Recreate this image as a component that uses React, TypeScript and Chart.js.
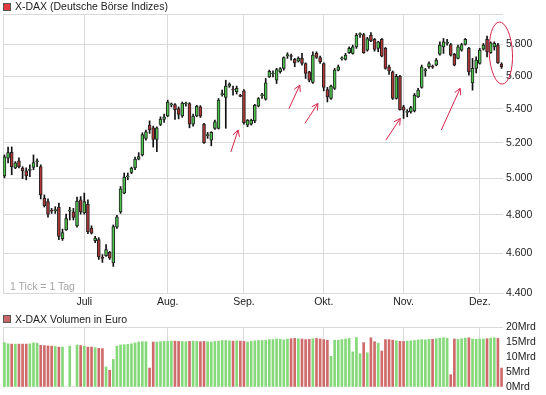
import { useEffect, useRef } from "react";
import { Chart, registerables } from "chart.js";

Chart.register(...registerables);

// ---- data ----
const monthTicks = [22, 45, 66, 88, 110, 131];
const monthLabels = ["Juli", "Aug.", "Sep.", "Okt.", "Nov.", "Dez."];
const priceTicks = [4400, 4600, 4800, 5000, 5200, 5400, 5600, 5800, 6000];
const volumeTicks = [0, 5, 10, 15, 20];

const openP = [
  5012, 5112, 5145, 5057, 5096, 5056, 5040, 5043, 5059, 5091,
  5064, 4889, 4871, 4823, 4822, 4841, 4674, 4720, 4819, 4815,
  4741, 4880, 4810, 4856, 4729, 4664, 4669, 4578, 4587, 4603,
  4550, 4734, 4815, 4917, 5006, 5031, 5056, 5106, 5130, 5225,
  5303, 5287, 5219, 5307, 5336, 5358, 5423, 5426, 5401, 5358,
  5429, 5432, 5309, 5358, 5411, 5309, 5241, 5215, 5284, 5284,
  5486, 5468, 5538, 5520, 5503, 5481, 5509, 5303, 5309, 5328,
  5415, 5479, 5458, 5594, 5613, 5574, 5627, 5648, 5729, 5729,
  5705, 5694, 5711, 5679, 5626, 5560, 5743, 5717, 5679, 5517,
  5462, 5524, 5637, 5708, 5705, 5747, 5743, 5785, 5864, 5865,
  5764, 5860, 5833, 5775, 5833, 5775, 5658, 5626, 5462, 5599,
  5411, 5378, 5381, 5387, 5472, 5530, 5634, 5658, 5661, 5669,
  5738, 5785, 5807, 5800, 5737, 5711, 5764, 5800, 5775, 5558,
  5648, 5679, 5770, 5833, 5747, 5785, 5796, 5675,
];
const highP = [
  5130, 5175, 5176, 5092, 5113, 5063, 5057, 5074, 5130, 5108,
  5074, 4907, 4885, 4834, 4843, 4863, 4724, 4803, 4840, 4834,
  4895, 4898, 4917, 4880, 4741, 4686, 4679, 4592, 4643, 4608,
  4746, 4797, 4953, 5028, 5028, 5061, 5117, 5143, 5258, 5274,
  5328, 5297, 5293, 5352, 5368, 5452, 5435, 5432, 5411, 5441,
  5441, 5437, 5368, 5421, 5419, 5313, 5260, 5264, 5332, 5462,
  5513, 5574, 5558, 5538, 5538, 5487, 5517, 5336, 5338, 5427,
  5468, 5493, 5585, 5637, 5632, 5648, 5653, 5721, 5747, 5738,
  5711, 5721, 5743, 5683, 5630, 5753, 5753, 5726, 5683, 5530,
  5544, 5648, 5669, 5721, 5743, 5785, 5796, 5872, 5875, 5872,
  5846, 5878, 5839, 5821, 5839, 5781, 5669, 5632, 5611, 5605,
  5421, 5395, 5415, 5493, 5524, 5669, 5648, 5690, 5669, 5711,
  5817, 5839, 5833, 5807, 5743, 5796, 5807, 5839, 5781, 5711,
  5721, 5775, 5807, 5854, 5817, 5817, 5807, 5683,
];
const lowP = [
  5001, 5085, 5018, 5052, 5057, 4996, 4990, 5008, 5046, 5063,
  4885, 4841, 4787, 4807, 4807, 4669, 4665, 4717, 4772, 4772,
  4734, 4803, 4803, 4700, 4698, 4653, 4567, 4552, 4582, 4567,
  4532, 4728, 4807, 4913, 4990, 5024, 5046, 5102, 5124, 5215,
  5254, 5175, 5148, 5300, 5319, 5352, 5411, 5336, 5340, 5349,
  5415, 5287, 5297, 5352, 5348, 5196, 5225, 5182, 5277, 5280,
  5476, 5284, 5530, 5482, 5489, 5472, 5309, 5293, 5303, 5317,
  5411, 5462, 5452, 5591, 5594, 5554, 5618, 5637, 5711, 5700,
  5658, 5688, 5669, 5585, 5564, 5554, 5711, 5679, 5509, 5441,
  5456, 5517, 5632, 5700, 5700, 5743, 5738, 5775, 5846, 5743,
  5757, 5818, 5757, 5753, 5721, 5643, 5611, 5456, 5458, 5391,
  5342, 5352, 5374, 5381, 5468, 5525, 5599, 5648, 5648, 5664,
  5732, 5743, 5796, 5726, 5664, 5707, 5757, 5796, 5605, 5513,
  5620, 5675, 5764, 5721, 5743, 5764, 5679, 5648,
];
const closeP = [
  5119, 5143, 5064, 5085, 5064, 5040, 5012, 5049, 5087, 5096,
  4907, 4848, 4803, 4819, 4828, 4686, 4706, 4780, 4823, 4786,
  4874, 4816, 4871, 4711, 4703, 4677, 4580, 4573, 4617, 4575,
  4737, 4789, 4940, 5005, 5011, 5056, 5106, 5120, 5248, 5264,
  5274, 5219, 5287, 5338, 5352, 5441, 5429, 5395, 5366, 5435,
  5435, 5309, 5356, 5415, 5356, 5201, 5247, 5260, 5322, 5452,
  5492, 5538, 5550, 5514, 5524, 5475, 5317, 5332, 5332, 5421,
  5462, 5486, 5558, 5630, 5619, 5641, 5646, 5717, 5735, 5723,
  5683, 5711, 5679, 5616, 5574, 5732, 5717, 5690, 5530, 5472,
  5538, 5637, 5658, 5714, 5732, 5775, 5785, 5860, 5870, 5747,
  5839, 5823, 5768, 5817, 5726, 5648, 5632, 5462, 5599, 5395,
  5391, 5384, 5407, 5482, 5513, 5658, 5640, 5679, 5655, 5700,
  5796, 5817, 5814, 5732, 5669, 5785, 5800, 5833, 5626, 5648,
  5700, 5764, 5796, 5753, 5810, 5807, 5683, 5658,
];
// Volume in Mrd Euro
const volumeMrd = [
  14.8, 14.4, 14.3, 14.3, 14.3, 14.3, 14.3, 14.4, 14.7, 14.6,
  13.9, 13.8, 13.7, 13.6, 13.5, 13.3, 13.3, 0, 13.6, 0,
  14.0, 13.8, 13.6, 13.3, 13.3, 13.1, 12.9, 12.8, 6.7, 5.6,
  9.2, 13.6, 14.0, 14.1, 14.2, 14.4, 14.7, 15.0, 15.1, 15.1,
  6.3, 15.0, 15.0, 15.1, 15.2, 15.2, 15.3, 15.3, 15.2, 15.2,
  15.1, 15.2, 15.3, 15.2, 15.1, 15.2, 15.1, 15.0, 15.2, 15.3,
  15.5, 15.5, 15.4, 15.3, 15.4, 15.3, 15.2, 15.0, 15.2, 15.4,
  15.5, 15.5, 15.6, 15.8, 15.8, 16.0, 15.9, 15.7, 16.0, 16.1,
  16.2, 16.1, 16.0, 15.8, 15.9, 16.1, 16.2, 16.0, 15.8, 15.6,
  10.2, 15.6, 15.6, 15.8, 16.0, 16.2, 11.7, 16.5, 11.1, 14.8,
  11.4, 16.4, 15.1, 14.6, 12.0, 15.8, 15.8, 15.6, 15.4, 15.2,
  15.2, 15.3, 15.4, 15.5, 15.7, 15.8, 15.7, 15.9, 15.9, 16.1,
  16.3, 16.4, 16.3, 4.1, 16.0, 15.9, 16.1, 16.3, 16.4, 16.0,
  15.9, 16.0, 16.0, 16.1, 16.3, 16.4, 16.2, 6.3,
];

// hand-drawn annotations (data coordinates: index, price)
const arrowTail = [[62.4, 5147], [78.4, 5401], [82.8, 5313], [105.1, 5215], [120.4, 5274]];
const arrowTip = [[64.4, 5274], [81.4, 5544], [86.4, 5432], [109.1, 5342], [125.6, 5524]];
const ellipseCenterIndex = 136.8;
const ellipseHalfWidthIndex = 3.2;
const ellipseTopPrice = 5947;
const ellipseBottomPrice = 5550;

// ---- styles ----
const FONT = "'Liberation Sans', Arial, sans-serif";
const GRID = "#d9d9d9";
const BODY_UP = "#4cc44c";
const BODY_DOWN = "#b03636";
const VOL_UP = "#86d97a";
const VOL_DOWN = "#cf6b6b";
const TEXT = "#222";
const ANNO = "#d8234a";

function fmtDE(v: number) {
  const s = String(Math.round(v));
  return s.length > 3 ? s.slice(0, s.length - 3) + "." + s.slice(-3) : s;
}

const annotationPlugin = {
  id: "handAnnotations",
  afterDraw(chart: any) {
    const { ctx } = chart;
    const xs = chart.scales.x;
    const ys = chart.scales.y;
    ctx.save();
    ctx.strokeStyle = ANNO;
    ctx.lineWidth = 1;
    arrowTail.forEach((t, k) => {
      const tip = arrowTip[k];
      const x0 = xs.getPixelForValue(t[0]);
      const y0 = ys.getPixelForValue(t[1]);
      const x1 = xs.getPixelForValue(tip[0]);
      const y1 = ys.getPixelForValue(tip[1]);
      const ang = Math.atan2(y1 - y0, x1 - x0);
      ctx.beginPath();
      ctx.moveTo(x0, y0);
      ctx.lineTo(x1, y1);
      const len = 7;
      for (const d of [-0.5, 0.5]) {
        ctx.moveTo(x1, y1);
        ctx.lineTo(x1 - len * Math.cos(ang + d), y1 - len * Math.sin(ang + d));
      }
      ctx.stroke();
    });
    const cx = xs.getPixelForValue(ellipseCenterIndex);
    const rx = xs.getPixelForValue(ellipseCenterIndex + ellipseHalfWidthIndex) - cx;
    const yt = ys.getPixelForValue(ellipseTopPrice);
    const yb = ys.getPixelForValue(ellipseBottomPrice);
    ctx.beginPath();
    ctx.ellipse(cx, (yt + yb) / 2, rx, (yb - yt) / 2, -0.05, 0, Math.PI * 2);
    ctx.stroke();
    ctx.restore();
  },
};

function xAxis(showLabels: boolean, height: number, showBorder: boolean) {
  return {
    type: "linear",
    min: -0.4,
    max: 137.4,
    offset: false,
    afterBuildTicks: (s: any) => {
      s.ticks = [-0.4, ...monthTicks].map((v) => ({ value: v }));
    },
    afterFit: (s: any) => {
      s.height = height;
      s.paddingLeft = 0;
      s.paddingRight = 0;
    },
    grid: { color: GRID, drawTicks: false, lineWidth: 1, offset: false },
    border: { display: showBorder, color: GRID },
    ticks: {
      display: showLabels,
      padding: 3,
      color: TEXT,
      autoSkip: false,
      maxRotation: 0,
      font: { family: FONT, size: 10.5 },
      callback: (v: number) => {
        const k = monthTicks.indexOf(v);
        return k >= 0 ? monthLabels[k] : "";
      },
    },
  };
}

export default function App() {
  const priceRef = useRef<HTMLCanvasElement>(null);
  const volRef = useRef<HTMLCanvasElement>(null);

  useEffect(() => {
    const idx = openP.map((_, i) => i);
    const up = idx.map((i) => closeP[i] >= openP[i]);

    const price = new Chart(priceRef.current as HTMLCanvasElement, {
      type: "bar",
      data: {
        datasets: [
          {
            label: "body",
            data: idx.map((i) => ({ x: i, y: [openP[i], closeP[i]] })),
            backgroundColor: idx.map((i) => (up[i] ? BODY_UP : BODY_DOWN)),
            borderColor: "#222",
            borderWidth: 1,
            borderSkipped: false,
            barThickness: 3,
            minBarLength: 1,
            grouped: false,
          } as any,
          {
            label: "wick",
            data: idx.map((i) => ({ x: i, y: [lowP[i], highP[i]] })),
            backgroundColor: "#111",
            borderWidth: 0,
            barThickness: 1,
            grouped: false,
          } as any,
        ],
      },
      options: {
        animation: false,
        responsive: false,
        devicePixelRatio: 1,
        events: [],
        layout: { padding: { left: 3, top: 14, right: 0, bottom: 0 } },
        plugins: { legend: { display: false }, tooltip: { enabled: false } },
        scales: {
          x: xAxis(true, 17, true) as any,
          y: {
            type: "logarithmic",
            position: "right",
            min: 4400,
            max: 6000,
            afterBuildTicks: (s: any) => {
              s.ticks = priceTicks.map((v) => ({ value: v }));
            },
            afterFit: (s: any) => {
              s.width = 43;
              s.paddingTop = 0;
              s.paddingBottom = 0;
            },
            grid: { color: GRID, drawTicks: false },
            border: { display: false },
            ticks: {
              padding: 3,
              autoSkip: false,
              color: TEXT,
              font: { family: FONT, size: 10.5 },
              callback: (v: number) => (v >= 6000 ? "" : fmtDE(v)),
            },
          } as any,
        },
      },
      plugins: [annotationPlugin],
    });

    const vol = new Chart(volRef.current as HTMLCanvasElement, {
      type: "bar",
      data: {
        datasets: [
          {
            label: "Volumen",
            data: idx.map((i) => ({ x: i, y: volumeMrd[i] })),
            backgroundColor: idx.map((i) => (up[i] ? VOL_UP : VOL_DOWN)),
            borderWidth: 0,
            barThickness: 2,
            grouped: false,
          } as any,
        ],
      },
      options: {
        animation: false,
        responsive: false,
        devicePixelRatio: 1,
        events: [],
        layout: { padding: { left: 3, top: 17, right: 0, bottom: 0 } },
        plugins: { legend: { display: false }, tooltip: { enabled: false } },
        scales: {
          x: xAxis(false, 8, false) as any,
          y: {
            type: "linear",
            position: "right",
            min: 0,
            max: 20,
            afterBuildTicks: (s: any) => {
              s.ticks = volumeTicks.map((v) => ({ value: v }));
            },
            afterFit: (s: any) => {
              s.width = 43;
              s.paddingTop = 0;
              s.paddingBottom = 0;
            },
            grid: {
              drawTicks: false,
              color: (c: any) => (c.tick && c.tick.value === 20 ? GRID : "rgba(0,0,0,0)"),
            },
            border: { display: false },
            ticks: {
              padding: 3,
              autoSkip: false,
              color: TEXT,
              font: { family: FONT, size: 10.5 },
              callback: (v: number) => v + "Mrd",
            },
          } as any,
        },
      },
    });

    return () => {
      price.destroy();
      vol.destroy();
    };
  }, []);

  const square = (bg: string, top: number) => ({
    position: "absolute" as const,
    left: 3,
    top,
    width: 6,
    height: 6,
    background: bg,
    border: "1px solid #555",
  });
  const label = (top: number, color = TEXT) => ({
    position: "absolute" as const,
    left: 15,
    top,
    fontFamily: FONT,
    fontSize: "10.5px",
    lineHeight: "13px",
    color,
    whiteSpace: "nowrap" as const,
  });

  return (
    <div
      style={{
        position: "absolute",
        left: 0,
        top: 0,
        width: 546,
        height: 395,
        background: "#fff",
        overflow: "hidden",
      }}
    >
      <canvas ref={priceRef} width={546} height={310} style={{ position: "absolute", left: 0, top: 0 }} />
      <canvas ref={volRef} width={546} height={85} style={{ position: "absolute", left: 0, top: 310 }} />
      <div style={square("#e23b3b", 3)} />
      <div style={label(0)}>X-DAX (Deutsche Börse Indizes)</div>
      <div style={{ ...label(279.5, "#a5a5a5"), left: 10 }}>1 Tick = 1 Tag</div>
      <div style={square("#cc6666", 315)} />
      <div style={label(312.5)}>X-DAX Volumen in Euro</div>
    </div>
  );
}
